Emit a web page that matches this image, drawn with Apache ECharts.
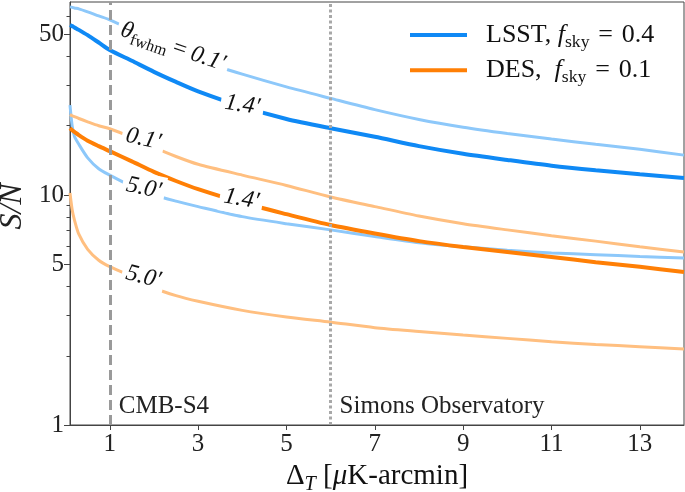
<!DOCTYPE html>
<html>
<head>
<meta charset="utf-8">
<script src="https://cdn.jsdelivr.net/npm/echarts@6/dist/echarts.min.js"></script>
<style>
  html, body { margin: 0; padding: 0; background: #fff; }
  #chart { width: 685px; height: 492px; }
</style>
</head>
<body>
<div id="chart"></div>
<script>
// noise level Delta_T [uK-arcmin]
const deltaT = [0.1, 0.15, 0.2, 0.3, 0.5, 0.75, 1, 1.5, 2, 2.5, 3, 4, 5, 6, 7, 8, 9, 10, 11, 12, 13, 14]

// S/N, one list per curve
const lsst01 = [65.7, 65.4, 65, 64.4, 62.5, 60, 57.7, 52, 46.5, 42, 38.5, 33.5, 29.5, 26.3, 23.5, 21.3, 19.7, 18.5, 17.5, 16.6, 15.8, 14.9]
const lsst14 = [54.8, 54.2, 53.5, 52.2, 49.5, 46, 42.7, 38.3, 34.3, 31, 28.2, 24.2, 21.4, 19.5, 17.9, 16.3, 15.1, 14.2, 13.4, 12.8, 12.3, 11.85]
const lsst50 = [24.6, 19.9, 18.0, 16.6, 14.5, 13.0, 12.2, 10.9, 10.0, 9.4, 8.9, 8.05, 7.5, 7.05, 6.6, 6.2, 5.95, 5.75, 5.6, 5.5, 5.4, 5.32]
const des01 = [22.4, 22.1, 21.9, 21.5, 20.8, 20.0, 19.4, 17.8, 16.1, 14.7, 13.6, 12.2, 11.0, 9.8, 8.9, 8.1, 7.5, 7.05, 6.65, 6.3, 5.95, 5.65]
const des14 = [19.5, 19.1, 18.8, 18.2, 17.2, 16.3, 15.5, 14.0, 12.6, 11.5, 10.6, 9.25, 8.25, 7.4, 6.8, 6.3, 5.94, 5.65, 5.38, 5.1, 4.87, 4.63]
const des50 = [10.2, 8.6, 7.8, 6.75, 5.8, 5.2, 4.88, 4.42, 3.95, 3.65, 3.45, 3.15, 2.95, 2.8, 2.65, 2.55, 2.46, 2.38, 2.3, 2.24, 2.19, 2.14]

// experiments marked with vertical lines
const refValues = [1, 6]
const refNames = ['CMB-S4', 'Simons Observatory']

// tick labels
const xTicks = [1, 3, 5, 7, 9, 11, 13]
const yTicks = [1, 5, 10, 50]
const yMinorTicks = [2, 3, 4, 6, 7, 8, 9, 20, 30, 40, 60]

const FONT = '"Liberation Serif", "DejaVu Serif", serif'
const AXIS = '#444'
const BLUE = '#0f89f5'
const BLUE_L = '#8dc8fa'
const ORANGE = '#ff7f05'
const ORANGE_L = '#ffbf80'

const pair = arr => deltaT.map((x, i) => [x, arr[i]])

// rich text pieces, size given per use
const richSet = (size, eqPad) => ({
  n: { fontFamily: FONT, fontSize: size, color: '#111', lineHeight: size * 1.25 },
  i: { fontFamily: FONT, fontSize: size, color: '#111', fontStyle: 'italic', lineHeight: size * 1.25 },
  e: { fontFamily: FONT, fontSize: size, color: '#111', lineHeight: size * 1.25, padding: [0, size * (eqPad || 0.22)] },
  s: { fontFamily: FONT, fontSize: size * 0.68, color: '#111', lineHeight: size * 0.68, verticalAlign: 'bottom' },
  si: { fontFamily: FONT, fontSize: size * 0.7, color: '#111', fontStyle: 'italic', lineHeight: size * 0.68, verticalAlign: 'bottom' }
})

const curve = (name, arr, color, width) => ({
  name: name,
  type: 'line',
  data: pair(arr),
  showSymbol: false,
  smooth: 0.25,
  z: 2,
  lineStyle: { color: color, width: width },
  itemStyle: { color: color },
  emphasis: { disabled: true }
})

// label sitting on a curve, the white box breaks the line like in the figure
const curveLabel = (coord, text, rotate) => ({
  coord: coord,
  label: { formatter: text, rotate: rotate }
})

const chart = echarts.init(document.getElementById('chart'))

const option = {
  animation: false,
  grid: {
    left: 70, right: 1, top: 2, bottom: 67,
    outerBoundsMode: 'none',
    show: true, borderColor: AXIS, borderWidth: 1
  },
  legend: {
    data: ['LSST', 'DES'],
    orient: 'vertical',
    left: 405,
    top: 17,
    icon: 'rect',
    itemWidth: 57,
    itemHeight: 4,
    itemGap: 6,
    formatter: name => name === 'LSST'
      ? '{n|LSST, }{i|f}{s|sky}{e|=}{n|0.4}'
      : '{n|DES,  }{i|f}{s|sky}{e|=}{n|0.1}',
    textStyle: { padding: [0, 0, 0, 14], rich: richSet(26, 0.34) }
  },
  xAxis: {
    type: 'value',
    min: 0.1,
    max: 14,
    splitLine: { show: false },
    axisLine: { lineStyle: { color: AXIS, width: 1 } },
    axisTick: { customValues: xTicks, length: 5, lineStyle: { color: AXIS } },
    axisLabel: { customValues: xTicks, fontFamily: FONT, fontSize: 25, color: '#222', margin: 7 },
    name: '{n|Δ}{si|T}{n| [}{i|μ}{n|K-arcmin]}',
    nameLocation: 'middle',
    nameGap: 29,
    nameTextStyle: { rich: richSet(29) }
  },
  yAxis: [
    {
      type: 'log',
      logBase: 10,
      min: 1,
      max: 69,
      splitLine: { show: false },
      axisLine: { show: true, lineStyle: { color: AXIS, width: 1 } },
      axisTick: { customValues: yTicks, length: 6, lineStyle: { color: AXIS } },
      axisLabel: { customValues: yTicks, fontFamily: FONT, fontSize: 25, color: '#222', margin: 6 },
      name: 'S/N',
      nameLocation: 'middle',
      nameRotate: 90,
      nameGap: 40,
      nameTextStyle: { fontFamily: FONT, fontSize: 32, fontStyle: 'italic', color: '#222', padding: [0, 0, 0, 14] }
    },
    {
      type: 'log',
      logBase: 10,
      min: 1,
      max: 69,
      position: 'left',
      offset: 0,
      splitLine: { show: false },
      axisLine: { show: false },
      axisTick: { customValues: yMinorTicks, length: 3.5, lineStyle: { color: AXIS } },
      axisLabel: { show: false }
    }
  ],
  series: [
    {
      name: 'refs',
      type: 'line',
      data: [],
      z: 1,
      markLine: {
        silent: true,
        symbol: 'none',
        label: { show: false },
        data: [
          { xAxis: refValues[0], lineStyle: { type: [10, 5], color: '#9a9a9a', width: 3 } },
          { xAxis: refValues[1], lineStyle: { type: [3, 2.5], color: '#a8a8a8', width: 3 } }
        ]
      },
      markPoint: {
        silent: true,
        symbolSize: 0,
        label: { position: 'right', distance: 9, fontFamily: FONT, fontSize: 25, color: '#222' },
        data: refValues.map((v, i) => ({ coord: [v, 1.2], label: { formatter: refNames[i] } }))
      }
    },
    curve('LSST 0.1', lsst01, BLUE_L, 3),
    curve('LSST', lsst14, BLUE, 4),
    curve('LSST 5.0', lsst50, BLUE_L, 3),
    curve('DES 0.1', des01, ORANGE_L, 3),
    curve('DES', des14, ORANGE, 4),
    curve('DES 5.0', des50, ORANGE_L, 3),
    {
      name: 'labels',
      type: 'line',
      data: [],
      z: 5,
      markPoint: {
        silent: true,
        symbolSize: 0,
        label: {
          position: 'inside',
          backgroundColor: '#fff',
          padding: [0, 4],
          rich: richSet(24)
        },
        data: [
          curveLabel([2.43, 44], '{i|θ}{s|fwhm}{e|=}{i|0.1′}', -19),
          curveLabel([4.0, 24.6], '{i|1.4′}', -9),
          curveLabel([1.76, 17.5], '{i|0.1′}', -13),
          curveLabel([1.77, 10.7], '{i|5.0′}', -12),
          curveLabel([3.98, 9.6], '{i|1.4′}', -10),
          curveLabel([1.76, 4.4], '{i|5.0′}', -14)
        ]
      }
    }
  ]
}

chart.setOption(option)
</script>
</body>
</html>
